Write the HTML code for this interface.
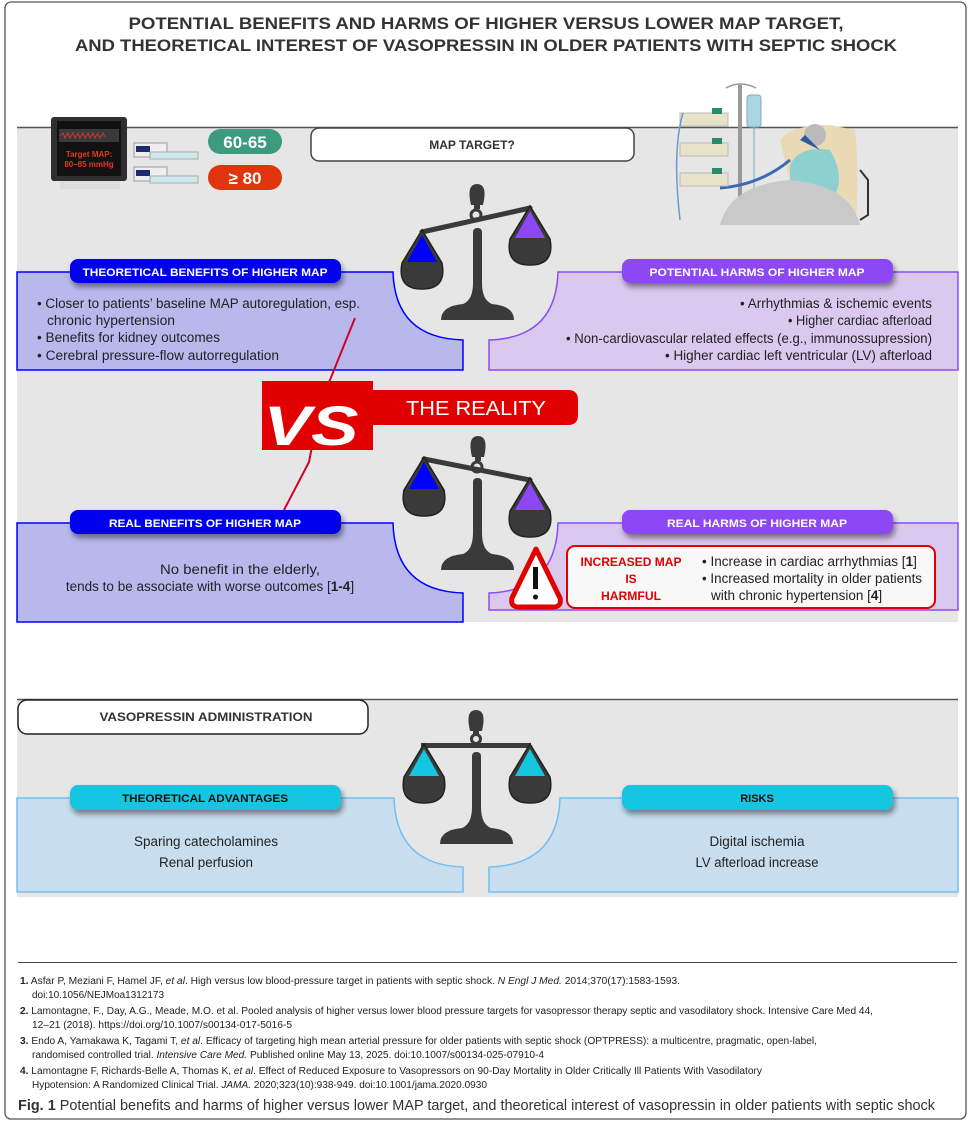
<!DOCTYPE html>
<html><head><meta charset="utf-8"><style>
html,body{margin:0;padding:0;background:#fff;}
svg{display:block;font-family:"Liberation Sans",sans-serif;}
</style></head><body>
<svg width="971" height="1122" viewBox="0 0 971 1122" xmlns="http://www.w3.org/2000/svg">
<defs>
<filter id="sh" x="-10%" y="-30%" width="120%" height="190%"><feDropShadow dx="2" dy="4" stdDeviation="3" flood-color="#000" flood-opacity="0.45"/></filter>
<g id="pan"><path d="M0,-2 L-20,31 Q-25,57 0,57 Q25,57 20,31 Z" fill="#3a3a3a" stroke="#222" stroke-width="1.5"/></g>
<g id="base"><rect x="-4" y="0" width="9" height="80" rx="4" fill="#3a3a3a"/><path d="M-36,92 Q-36,78 -14,76 Q-4,72 -4,55 L5,55 Q5,72 15,76 Q37,78 37,92 Z" fill="#3a3a3a"/></g>
</defs>
<rect x="5" y="2" width="961" height="1117" rx="6" fill="#fff" stroke="#555" stroke-width="1.3"/>
<g font-weight="bold" font-size="17" fill="#333" text-anchor="middle">
<text x="486" y="29" textLength="715" lengthAdjust="spacingAndGlyphs">POTENTIAL BENEFITS AND HARMS OF HIGHER VERSUS LOWER MAP TARGET,</text>
<text x="486" y="51" textLength="822" lengthAdjust="spacingAndGlyphs">AND THEORETICAL INTEREST OF VASOPRESSIN IN OLDER PATIENTS WITH SEPTIC SHOCK</text>
</g>
<rect x="17" y="127" width="941" height="495" fill="#e6e6e6"/>
<line x1="17" y1="127.5" x2="958" y2="127.5" stroke="#555" stroke-width="1.5"/>
<g>
<rect x="738" y="85" width="4" height="140" fill="#999"/>
<path d="M726,88 Q740,80 756,88" stroke="#999" fill="none" stroke-width="1.5"/>
<rect x="747" y="95" width="14" height="32" rx="3" fill="#a9d4e4" stroke="#8ab" />
<line x1="754" y1="127" x2="754" y2="190" stroke="#7ab" stroke-width="1"/>
<path d="M800,225 L780,140 Q790,125 830,125 L855,130 Q860,180 855,225 Z" fill="#ead9b5"/>
<circle cx="815" cy="135" r="11" fill="#bbb"/>
<path d="M790,165 Q800,145 830,150 Q845,175 835,195 L790,195 Z" fill="#8dd0d0"/>
<path d="M720,225 Q730,185 790,180 Q850,185 860,225 Z" fill="#c9c9c9"/>
<path d="M800,140 L805,135 L820,150 Z" fill="#2c5aa0"/>
<path d="M720,188 Q760,185 790,160" stroke="#3a6ab0" stroke-width="3" fill="none"/>
<g fill="#e8e2c8" stroke="#bbb"><rect x="680" y="113" width="48" height="13"/><rect x="680" y="143" width="48" height="13"/><rect x="680" y="173" width="48" height="13"/></g>
<g fill="#2a8a6a"><rect x="712" y="108" width="10" height="6"/><rect x="712" y="138" width="10" height="6"/><rect x="712" y="168" width="10" height="6"/></g>
<path d="M683,113 Q672,150 680,220" stroke="#6a9ad0" fill="none" stroke-width="1.5"/>
<path d="M860,170 L868,180 L868,215 L860,220" stroke="#333" fill="none" stroke-width="2"/>
</g>
<rect x="51" y="117" width="76" height="64" rx="3" fill="#2f2f2f"/>
<rect x="57" y="121" width="64" height="55" fill="#111"/>
<rect x="59" y="129" width="60" height="13" fill="#3a3a3a"/>
<path d="M60,136 l3,-3 l2,5 l3,-5 l2,5 l3,-5 l2,5 l3,-5 l2,5 l3,-5 l2,5 l3,-5 l2,5 l3,-5 l2,5 l3,-5 l2,5 l3,-5 l2,4" stroke="#e33" stroke-width="0.8" fill="none"/>
<text x="89" y="157" font-size="8" font-weight="bold" fill="#e8361a" text-anchor="middle">Target MAP:</text>
<text x="89" y="167" font-size="8" font-weight="bold" fill="#e8361a" text-anchor="middle">80–85 mmHg</text>
<rect x="60" y="181" width="60" height="8" fill="#ddd"/>
<g><rect x="134" y="143" width="33" height="14" fill="#eee" stroke="#999"/><rect x="136" y="146" width="14" height="6" fill="#1a2a6a"/><rect x="150" y="152" width="48" height="7" fill="#cfe8ee" stroke="#aaa"/>
<rect x="134" y="167" width="33" height="14" fill="#eee" stroke="#999"/><rect x="136" y="170" width="14" height="6" fill="#1a2a6a"/><rect x="150" y="176" width="48" height="7" fill="#cfe8ee" stroke="#aaa"/></g>
<rect x="208" y="129" width="74" height="25" rx="12.5" fill="#3d9a7c"/>
<text x="245" y="148" font-size="17" font-weight="bold" fill="#fff" text-anchor="middle">60-65</text>
<rect x="208" y="165" width="74" height="25" rx="12.5" fill="#e2330f"/>
<text x="245" y="184" font-size="17" font-weight="bold" fill="#fff" text-anchor="middle">≥ 80</text>
<rect x="311" y="128" width="323" height="33" rx="8" fill="#fff" stroke="#444" stroke-width="1.5"/>
<text x="472" y="149" font-size="12" font-weight="bold" fill="#333" text-anchor="middle">MAP TARGET?</text>
<path d="M17,272 L393,272 Q395,338 463,340 L463,370 L17,370 Z" fill="#b8b8ec" stroke="#0000ff" stroke-width="1.5"/>
<path d="M958,272 L558,272 Q556,338 489,340 L489,370 L958,370 Z" fill="#dac8ee" stroke="#8b4cf6" stroke-width="1.5"/>
<rect x="70" y="259" width="271" height="24" rx="8" fill="#0505ee" filter="url(#sh)"/>
<text x="205" y="276" font-size="11" font-weight="bold" fill="#fff" text-anchor="middle" textLength="245" lengthAdjust="spacingAndGlyphs">THEORETICAL BENEFITS OF HIGHER MAP</text>
<rect x="622" y="259" width="271" height="24" rx="8" fill="#8d47f5" filter="url(#sh)"/>
<text x="757" y="276" font-size="11" font-weight="bold" fill="#fff" text-anchor="middle" textLength="215" lengthAdjust="spacingAndGlyphs">POTENTIAL HARMS OF HIGHER MAP</text>
<g font-size="13.5" fill="#222">
<text x="37" y="308" textLength="323" lengthAdjust="spacingAndGlyphs">• Closer to patients’ baseline MAP autoregulation, esp.</text>
<text x="47" y="325" textLength="128" lengthAdjust="spacingAndGlyphs">chronic hypertension</text>
<text x="37" y="342" textLength="183" lengthAdjust="spacingAndGlyphs">• Benefits for kidney outcomes</text>
<text x="37" y="360" textLength="242" lengthAdjust="spacingAndGlyphs">• Cerebral pressure-flow autorregulation</text>
</g>
<g font-size="13.5" fill="#222" text-anchor="end">
<text x="932" y="308" textLength="192" lengthAdjust="spacingAndGlyphs">• Arrhythmias &amp; ischemic events</text>
<text x="932" y="325" textLength="144" lengthAdjust="spacingAndGlyphs">• Higher cardiac afterload</text>
<text x="932" y="343" textLength="366" lengthAdjust="spacingAndGlyphs">• Non-cardiovascular related effects (e.g., immunossupression)</text>
<text x="932" y="360" textLength="267" lengthAdjust="spacingAndGlyphs">• Higher cardiac left ventricular (LV) afterload</text>
</g>
<g>
<path d="M471,205 Q466,184 477,184 Q488,184 483,205 Z" fill="#3a3a3a"/>
<rect x="474" y="203" width="6" height="6" fill="#3a3a3a"/>
<circle cx="476" cy="215" r="5" fill="none" stroke="#3a3a3a" stroke-width="3"/>
<g transform="translate(477,228)"><use href="#base"/></g>
<line x1="422" y1="232" x2="530" y2="208" stroke="#3a3a3a" stroke-width="5" stroke-linecap="round"/>
<g transform="translate(422,232)"><use href="#pan"/><path d="M0,3 L-15,30 L15,30 Z" fill="#0000ff"/></g>
<g transform="translate(530,208)"><use href="#pan"/><path d="M0,3 L-15,30 L15,30 Z" fill="#8d47f5"/></g>
</g>
<path d="M355,318 L330,380 L322,395 L309,462 L284,510" stroke="#d4002a" stroke-width="2" fill="none"/>
<path d="M262,381 L373,381 L373,390 L568,390 Q578,390 578,400 L578,415 Q578,425 568,425 L373,425 L373,450 L262,450 Z" fill="#e00000"/>
<text x="311" y="445" font-size="56" font-weight="bold" font-style="italic" fill="#fff" text-anchor="middle" textLength="95" lengthAdjust="spacingAndGlyphs">VS</text>
<text x="476" y="415" font-size="20" fill="#fff" text-anchor="middle" textLength="140" lengthAdjust="spacingAndGlyphs">THE REALITY</text>
<path d="M17,523 L393,523 Q395,591 463,593 L463,622 L17,622 Z" fill="#b8b8ec" stroke="#0000ff" stroke-width="1.5"/>
<path d="M958,523 L558,523 Q556,591 489,593 L489,610 L958,610 Z" fill="#dac8ee" stroke="#8b4cf6" stroke-width="1.5"/>
<rect x="70" y="510" width="271" height="24" rx="8" fill="#0505ee" filter="url(#sh)"/>
<text x="205" y="527" font-size="11" font-weight="bold" fill="#fff" text-anchor="middle" textLength="192" lengthAdjust="spacingAndGlyphs">REAL BENEFITS OF HIGHER MAP</text>
<rect x="622" y="510" width="271" height="24" rx="8" fill="#8d47f5" filter="url(#sh)"/>
<text x="757" y="527" font-size="11" font-weight="bold" fill="#fff" text-anchor="middle" textLength="180" lengthAdjust="spacingAndGlyphs">REAL HARMS OF HIGHER MAP</text>
<g font-size="13.5" fill="#222" text-anchor="middle">
<text x="240" y="574" textLength="160" lengthAdjust="spacingAndGlyphs">No benefit in the elderly,</text>
<text x="210" y="591">tends to be associate with worse outcomes [<tspan font-weight="bold">1-4</tspan>]</text>
</g>
<rect x="567" y="546" width="368" height="62" rx="8" fill="#f8f8f8" stroke="#e00000" stroke-width="2"/>
<path d="M536,549 L512,598 Q510,607 519,607 L553,607 Q562,607 560,598 Z" fill="#fff" stroke="#e00000" stroke-width="5" stroke-linejoin="round"/>
<rect x="533" y="567" width="5" height="22" fill="#111"/><circle cx="535.5" cy="597" r="2.5" fill="#111"/>
<g font-size="12" font-weight="bold" fill="#e00000" text-anchor="middle">
<text x="631" y="566" textLength="101" lengthAdjust="spacingAndGlyphs">INCREASED MAP</text>
<text x="631" y="583">IS</text>
<text x="631" y="600" textLength="60" lengthAdjust="spacingAndGlyphs">HARMFUL</text>
</g>
<g font-size="13.5" fill="#222">
<text x="702" y="566">• Increase in cardiac arrhythmias [<tspan font-weight="bold">1</tspan>]</text>
<text x="702" y="583" textLength="220" lengthAdjust="spacingAndGlyphs">• Increased mortality in older patients</text>
<text x="711" y="600">with chronic hypertension [<tspan font-weight="bold">4</tspan>]</text>
</g>
<g>
<path d="M472,457 Q467,436 478,436 Q489,436 484,457 Z" fill="#3a3a3a"/>
<rect x="475" y="455" width="6" height="6" fill="#3a3a3a"/>
<circle cx="477" cy="467" r="5" fill="none" stroke="#3a3a3a" stroke-width="3"/>
<g transform="translate(477,478)"><use href="#base"/></g>
<line x1="424" y1="459" x2="530" y2="480" stroke="#3a3a3a" stroke-width="5" stroke-linecap="round"/>
<g transform="translate(424,459)"><use href="#pan"/><path d="M0,3 L-15,30 L15,30 Z" fill="#0000ff"/></g>
<g transform="translate(530,480)"><use href="#pan"/><path d="M0,3 L-15,30 L15,30 Z" fill="#8d47f5"/></g>
</g>
<rect x="17" y="699" width="941" height="198" fill="#e6e6e6"/>
<line x1="17" y1="699.5" x2="958" y2="699.5" stroke="#555" stroke-width="1.5"/>
<rect x="18" y="700" width="350" height="34" rx="9" fill="#fff" stroke="#222" stroke-width="1.5"/>
<text x="206" y="721" font-size="12" font-weight="bold" fill="#333" text-anchor="middle" textLength="213" lengthAdjust="spacingAndGlyphs">VASOPRESSIN ADMINISTRATION</text>
<path d="M17,798 L394,798 Q396,865 463,867 L463,892 L17,892 Z" fill="#c8deee" stroke="#72bff3" stroke-width="1.5"/>
<path d="M958,798 L560,798 Q558,865 489,867 L489,892 L958,892 Z" fill="#c8deee" stroke="#72bff3" stroke-width="1.5"/>
<rect x="70" y="785" width="271" height="25" rx="8" fill="#15c6e0" filter="url(#sh)"/>
<text x="205" y="802" font-size="11" font-weight="bold" fill="#111" text-anchor="middle" textLength="166" lengthAdjust="spacingAndGlyphs">THEORETICAL ADVANTAGES</text>
<rect x="622" y="785" width="271" height="25" rx="8" fill="#15c6e0" filter="url(#sh)"/>
<text x="757" y="802" font-size="11" font-weight="bold" fill="#111" text-anchor="middle">RISKS</text>
<g font-size="13.5" fill="#222" text-anchor="middle">
<text x="206" y="846" textLength="144" lengthAdjust="spacingAndGlyphs">Sparing catecholamines</text>
<text x="206" y="867" textLength="94" lengthAdjust="spacingAndGlyphs">Renal perfusion</text>
<text x="757" y="846" textLength="95" lengthAdjust="spacingAndGlyphs">Digital ischemia</text>
<text x="757" y="867" textLength="123" lengthAdjust="spacingAndGlyphs">LV afterload increase</text>
</g>
<g>
<path d="M470,731 Q465,710 476,710 Q487,710 482,731 Z" fill="#3a3a3a"/>
<rect x="473" y="729" width="6" height="6" fill="#3a3a3a"/>
<circle cx="476" cy="739" r="4.5" fill="none" stroke="#3a3a3a" stroke-width="3"/>
<g transform="translate(476,752)"><use href="#base"/></g>
<rect x="421" y="743" width="110" height="5" fill="#3a3a3a"/>
<g transform="translate(424,746)"><use href="#pan"/><path d="M0,3 L-15,30 L15,30 Z" fill="#15c6e0"/></g>
<g transform="translate(530,746)"><use href="#pan"/><path d="M0,3 L-15,30 L15,30 Z" fill="#15c6e0"/></g>
</g>
<line x1="18" y1="962.5" x2="957" y2="962.5" stroke="#444" stroke-width="1"/>
<g font-size="10" fill="#222">
<text x="20" y="984" textLength="660" lengthAdjust="spacingAndGlyphs"><tspan font-weight="bold">1.</tspan> Asfar P, Meziani F, Hamel JF, <tspan font-style="italic">et al</tspan>. High versus low blood-pressure target in patients with septic shock. <tspan font-style="italic">N Engl J Med.</tspan> 2014;370(17):1583-1593.</text>
<text x="32" y="998" textLength="132" lengthAdjust="spacingAndGlyphs">doi:10.1056/NEJMoa1312173</text>
<text x="20" y="1014" textLength="853" lengthAdjust="spacingAndGlyphs"><tspan font-weight="bold">2.</tspan> Lamontagne, F., Day, A.G., Meade, M.O. et al. Pooled analysis of higher versus lower blood pressure targets for vasopressor therapy septic and vasodilatory shock. Intensive Care Med 44,</text>
<text x="32" y="1028" textLength="260" lengthAdjust="spacingAndGlyphs">12–21 (2018). https://doi.org/10.1007/s00134-017-5016-5</text>
<text x="20" y="1044" textLength="797" lengthAdjust="spacingAndGlyphs"><tspan font-weight="bold">3.</tspan> Endo A, Yamakawa K, Tagami T, <tspan font-style="italic">et al</tspan>. Efficacy of targeting high mean arterial pressure for older patients with septic shock (OPTPRESS): a multicentre, pragmatic, open-label,</text>
<text x="32" y="1058" textLength="512" lengthAdjust="spacingAndGlyphs">randomised controlled trial. <tspan font-style="italic">Intensive Care Med.</tspan> Published online May 13, 2025. doi:10.1007/s00134-025-07910-4</text>
<text x="20" y="1074" textLength="742" lengthAdjust="spacingAndGlyphs"><tspan font-weight="bold">4.</tspan> Lamontagne F, Richards-Belle A, Thomas K, <tspan font-style="italic">et al</tspan>. Effect of Reduced Exposure to Vasopressors on 90-Day Mortality in Older Critically Ill Patients With Vasodilatory</text>
<text x="32" y="1088" textLength="455" lengthAdjust="spacingAndGlyphs">Hypotension: A Randomized Clinical Trial. <tspan font-style="italic">JAMA.</tspan> 2020;323(10):938-949. doi:10.1001/jama.2020.0930</text>
</g>
<text x="18" y="1110" font-size="14.5" fill="#333" textLength="917" lengthAdjust="spacingAndGlyphs"><tspan font-weight="bold">Fig. 1</tspan>  Potential benefits and harms of higher versus lower MAP target, and theoretical interest of vasopressin in older patients with septic shock</text>
</svg>
</body></html>
